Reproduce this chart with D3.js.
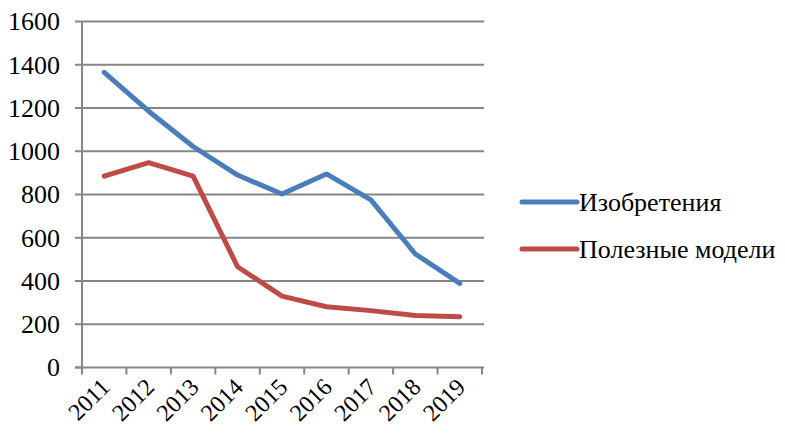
<!DOCTYPE html>
<html>
<head>
<meta charset="utf-8">
<script src="https://cdn.jsdelivr.net/npm/d3@7"></script>
</head>
<body style="margin:0">
<svg id="chart" width="785" height="437" style="display:block"></svg>
<script>
// Data
const years = ["2011", "2012", "2013", "2014", "2015", "2016", "2017", "2018", "2019"];
const inventions = [1365, 1185, 1022, 890, 802, 895, 775, 525, 389];
const utilityModels = [885, 947, 885, 466, 330, 281, 263, 240, 235];
const yTicks = [0, 200, 400, 600, 800, 1000, 1200, 1400, 1600];
const seriesNames = ["Изобретения", "Полезные модели"];
const seriesColors = ["#4a7ebb", "#be4b48"];

const FONT = "'Liberation Serif', 'Times New Roman', serif";

const series = [
  { name: seriesNames[0], color: seriesColors[0], values: inventions },
  { name: seriesNames[1], color: seriesColors[1], values: utilityModels }
];

const svg = d3.select("#chart");
const plot = { left: 82, right: 482, top: 21.5, bottom: 367.5 };

const x = d3.scaleBand().domain(years).range([plot.left, plot.right]);
const y = d3.scaleLinear().domain([0, 1600]).range([plot.bottom, plot.top]);

// Horizontal gridlines
svg.append("g")
  .selectAll("line")
  .data(yTicks.filter(d => d > 0))
  .join("line")
  .attr("x1", plot.left).attr("x2", plot.right + 2)
  .attr("y1", d => y(d)).attr("y2", d => y(d))
  .attr("stroke", "#868686").attr("stroke-width", 2);

// Value axis: left tick marks and labels
const gy = svg.append("g");
gy.selectAll("line")
  .data(yTicks)
  .join("line")
  .attr("x1", plot.left - 7).attr("x2", plot.left)
  .attr("y1", d => y(d)).attr("y2", d => y(d))
  .attr("stroke", "#868686").attr("stroke-width", 2);
gy.selectAll("text")
  .data(yTicks)
  .join("text")
  .attr("x", plot.left - 22)
  .attr("y", d => y(d))
  .attr("dy", "0.34em")
  .attr("text-anchor", "end")
  .attr("font-size", 26)
  .style("font-family", FONT)
  .text(d => String(d));

svg.append("line")
  .attr("x1", plot.left).attr("x2", plot.left)
  .attr("y1", plot.top).attr("y2", plot.bottom)
  .attr("stroke", "#868686").attr("stroke-width", 2);

// Category axis: ticks at band edges, rotated labels at band centers
const edges = years.map(d => x(d)).concat([plot.right]);
const gx = svg.append("g");
gx.append("line")
  .attr("x1", plot.left - 7).attr("x2", plot.right + 2)
  .attr("y1", plot.bottom).attr("y2", plot.bottom)
  .attr("stroke", "#868686").attr("stroke-width", 2);
gx.selectAll("line.tk")
  .data(edges)
  .join("line")
  .attr("class", "tk")
  .attr("x1", d => d).attr("x2", d => d)
  .attr("y1", plot.bottom).attr("y2", plot.bottom + 7)
  .attr("stroke", "#868686").attr("stroke-width", 2);
gx.selectAll("text")
  .data(years)
  .join("text")
  .attr("text-anchor", "end")
  .attr("font-size", 24)
  .style("font-family", FONT)
  .attr("transform", d => `translate(${x(d) + x.bandwidth() / 2 + 7},${plot.bottom + 21}) rotate(-45)`)
  .text(d => d);

// Series lines
const line = d3.line()
  .x((d, i) => x(years[i]) + x.bandwidth() / 2)
  .y(d => y(d));

svg.append("g")
  .selectAll("path")
  .data(series)
  .join("path")
  .attr("d", d => line(d.values))
  .attr("fill", "none")
  .attr("stroke", d => d.color)
  .attr("stroke-width", 5)
  .attr("stroke-linejoin", "round")
  .attr("stroke-linecap", "round");

// Legend
const lg = svg.append("g").selectAll("g")
  .data(series)
  .join("g")
  .attr("transform", (d, i) => `translate(522,${202 + i * 47})`);
lg.append("line")
  .attr("x1", 0).attr("x2", 55)
  .attr("y1", 0).attr("y2", 0)
  .attr("stroke", d => d.color)
  .attr("stroke-width", 5)
  .attr("stroke-linecap", "round");
lg.append("text")
  .attr("x", 57)
  .attr("dy", "0.33em")
  .attr("font-size", 26)
  .style("font-family", FONT)
  .text(d => d.name);
</script>
</body>
</html>
